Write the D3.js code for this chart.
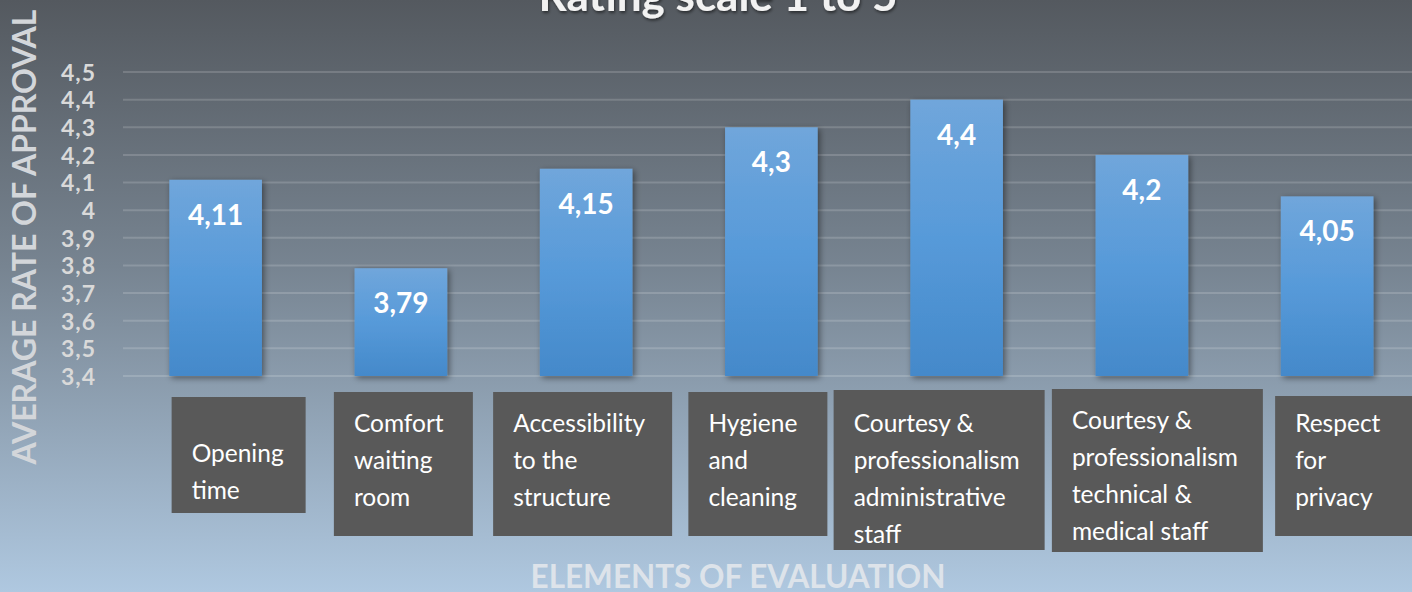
<!DOCTYPE html>
<html>
<head>
<meta charset="utf-8">
<script src="https://cdn.jsdelivr.net/npm/d3@7"></script>
<style>
  html, body { margin: 0; padding: 0; overflow: hidden; }
  svg { display: block; }
</style>
</head>
<body>
<svg id="chart" width="1412" height="592"></svg>
<script>
// ---------- data ----------
const categories = [
  ["Opening", "time"],
  ["Comfort", "waiting", "room"],
  ["Accessibility", "to the", "structure"],
  ["Hygiene", "and", "cleaning"],
  ["Courtesy &", "professionalism", "administrative", "staff"],
  ["Courtesy &", "professionalism", "technical &", "medical staff"],
  ["Respect", "for", "privacy"]
];
const values = [4.11, 3.79, 4.15, 4.3, 4.4, 4.2, 4.05];
const tickValues = [3.4, 3.5, 3.6, 3.7, 3.8, 3.9, 4.0, 4.1, 4.2, 4.3, 4.4, 4.5];
const titleText = "Rating scale 1 to 5";
const yTitle = "AVERAGE RATE OF APPROVAL";
const xTitle = "ELEMENTS OF EVALUATION";

// ---------- layout (label boxes, relative to band centre) ----------
const boxDx = [-44, -67, -93, -83, -123, -90, -52];
const boxTop = [397, 392, 392, 392, 390, 389, 396];
const boxW = [134, 139, 179, 139, 211, 211, 140];
const boxH = [116, 144, 144, 144, 160, 163, 140];
const firstLine = [55, 30, 30, 30, 32, 30, 26];
const lineH = 37;

const W = 1412, H = 592;
const svg = d3.select("#chart");
const defs = svg.append("defs");

const bg = defs.append("linearGradient").attr("id", "bg").attr("x1", 0).attr("y1", 0).attr("x2", 0).attr("y2", 1);
bg.append("stop").attr("offset", "0%").attr("stop-color", "#54595f");
bg.append("stop").attr("offset", "45%").attr("stop-color", "#778491");
bg.append("stop").attr("offset", "100%").attr("stop-color", "#afc8e0");

const bargrad = defs.append("linearGradient").attr("id", "bargrad").attr("x1", 0).attr("y1", 0).attr("x2", 0).attr("y2", 1);
bargrad.append("stop").attr("offset", "0%").attr("stop-color", "#70a6db");
bargrad.append("stop").attr("offset", "50%").attr("stop-color", "#579ad9");
bargrad.append("stop").attr("offset", "100%").attr("stop-color", "#4489ca");

const sh = defs.append("filter").attr("id", "shadow").attr("x", "-20%").attr("y", "-20%").attr("width", "140%").attr("height", "140%");
sh.append("feDropShadow").attr("dx", 2).attr("dy", 2).attr("stdDeviation", 3).attr("flood-color", "#000").attr("flood-opacity", 0.45);

const tsh = defs.append("filter").attr("id", "tshadow").attr("x", "-10%").attr("y", "-50%").attr("width", "120%").attr("height", "200%");
tsh.append("feDropShadow").attr("dx", 1).attr("dy", 2).attr("stdDeviation", 1.5).attr("flood-color", "#000").attr("flood-opacity", 0.5);

svg.append("rect").attr("width", W).attr("height", H).attr("fill", "url(#bg)");

// scales
const x = d3.scaleBand().domain(d3.range(values.length)).range([123, 123 + 7 * 185.25])
  .paddingInner(0.5).paddingOuter(0.25);
const y = d3.scaleLinear().domain([3.4, 4.5]).range([376, 72]);

const loc = d3.formatLocale({ decimal: ",", thousands: ".", grouping: [3], currency: ["", ""] });
const fmtTick = loc.format(".1~f");
const fmtVal = loc.format(".2~f");

// gridlines
svg.append("g").selectAll("line").data(tickValues).join("line")
  .attr("x1", 123).attr("x2", W)
  .attr("y1", d => y(d)).attr("y2", d => y(d))
  .attr("stroke", "#ffffff").attr("stroke-opacity", 0.16).attr("stroke-width", 2);

// y axis
const yAxis = svg.append("g").attr("transform", "translate(96,0)")
  .call(d3.axisLeft(y).tickValues(tickValues).tickFormat(fmtTick).tickSize(0).tickPadding(0));
yAxis.select(".domain").remove();
yAxis.selectAll("text")
  .attr("fill", "#d9d9d9").attr("font-family", "Lato, sans-serif")
  .attr("font-weight", "bold").attr("font-size", 23).attr("letter-spacing", 1)
  .attr("dy", "0.36em");

// bars
svg.append("g").selectAll("rect").data(values).join("rect")
  .attr("x", (d, i) => x(i)).attr("width", x.bandwidth())
  .attr("y", d => y(d)).attr("height", d => y(3.4) - y(d))
  .attr("fill", "url(#bargrad)").attr("filter", "url(#shadow)");

// value labels
svg.append("g").selectAll("text").data(values).join("text")
  .attr("x", (d, i) => x(i) + x.bandwidth() / 2).attr("y", d => y(d) + 34)
  .attr("text-anchor", "middle").attr("dominant-baseline", "central")
  .attr("fill", "#ffffff").attr("font-family", "Lato, sans-serif")
  .attr("font-weight", "bold").attr("font-size", 28)
  .text(d => fmtVal(d));

// category label boxes
const lab = svg.append("g").selectAll("g").data(categories).join("g")
  .attr("transform", (d, i) => `translate(${x(i) + x.bandwidth() / 2 + boxDx[i]},${boxTop[i]})`);
lab.append("rect").attr("width", (d, i) => boxW[i]).attr("height", (d, i) => boxH[i]).attr("fill", "#595959");
lab.each(function (d, i) {
  d3.select(this).selectAll("text").data(d).join("text")
    .attr("x", 20).attr("y", (t, j) => firstLine[i] + j * lineH)
    .attr("dominant-baseline", "central")
    .attr("fill", "#ffffff").attr("font-family", "Lato, sans-serif").attr("font-size", 24.5)
    .text(t => t);
});

// titles
svg.append("text").attr("x", 718).attr("y", 11).attr("text-anchor", "middle")
  .attr("fill", "#f2f2f2").attr("font-family", "Lato, sans-serif").attr("font-weight", "bold")
  .attr("font-size", 44).attr("filter", "url(#tshadow)").text(titleText);

svg.append("text").attr("transform", "translate(36,237) rotate(-90)").attr("text-anchor", "middle")
  .attr("fill", "#d3d6da").attr("font-family", "Lato, sans-serif").attr("font-weight", "bold")
  .attr("font-size", 32).text(yTitle);

svg.append("text").attr("x", 738).attr("y", 588).attr("text-anchor", "middle")
  .attr("fill", "#dde3ea").attr("font-family", "Lato, sans-serif").attr("font-weight", "bold")
  .attr("font-size", 31.5).text(xTitle);
</script>
</body>
</html>
